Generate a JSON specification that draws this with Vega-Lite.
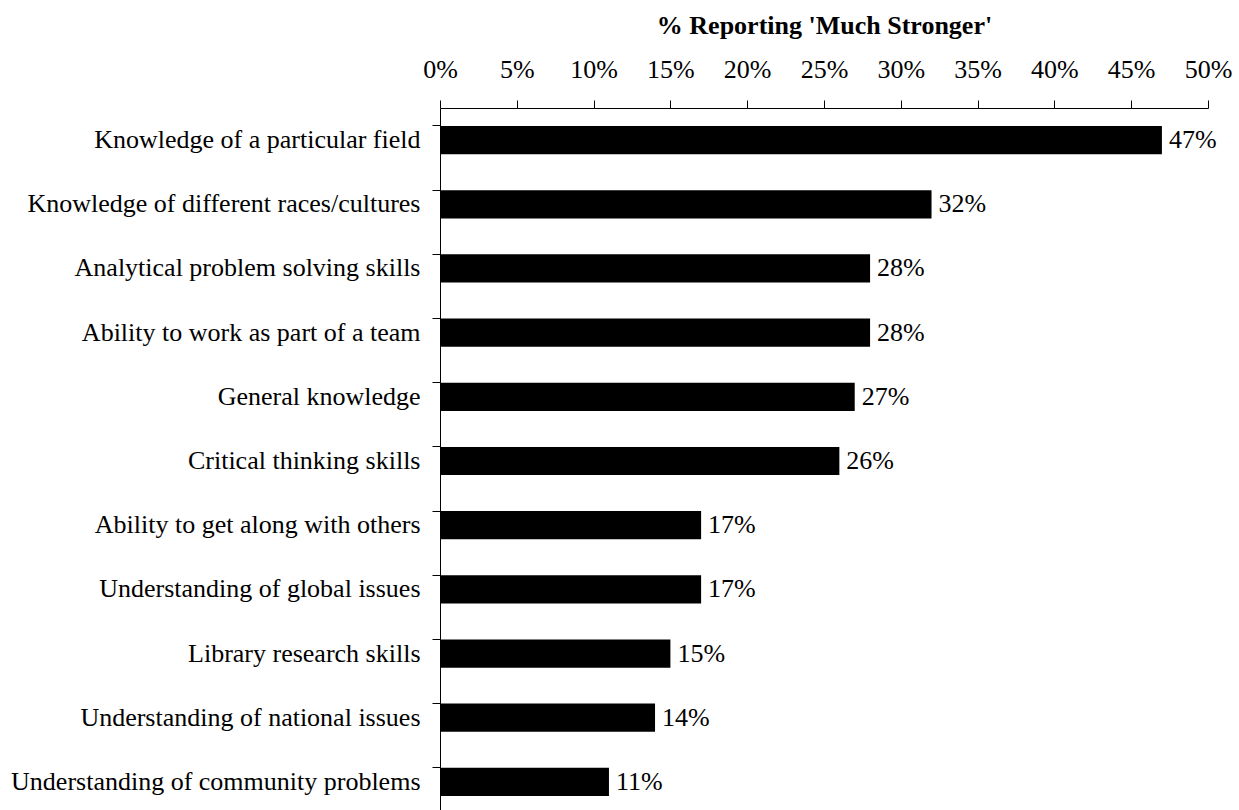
{
  "$schema": "https://vega.github.io/schema/vega-lite/v6.json",
  "autosize": "none",
  "padding": {"left": 440, "top": 108, "right": 31, "bottom": 0},
  "width": 768,
  "height": 706,
  "background": "white",
  "config": {
    "view": {"stroke": null},
    "font": "Liberation Serif",
    "axis": {"labelFont": "Liberation Serif", "titleFont": "Liberation Serif", "labelColor": "black", "titleColor": "black", "domainColor": "black", "tickColor": "black", "grid": false}
  },
  "data": {
    "values": [
      {"skill": "Knowledge of a particular field", "pct": 0.47},
      {"skill": "Knowledge of different races/cultures", "pct": 0.32},
      {"skill": "Analytical problem solving skills", "pct": 0.28},
      {"skill": "Ability to work as part of a team", "pct": 0.28},
      {"skill": "General knowledge", "pct": 0.27},
      {"skill": "Critical thinking skills", "pct": 0.26},
      {"skill": "Ability to get along with others", "pct": 0.17},
      {"skill": "Understanding of global issues", "pct": 0.17},
      {"skill": "Library research skills", "pct": 0.15},
      {"skill": "Understanding of national issues", "pct": 0.14},
      {"skill": "Understanding of community problems", "pct": 0.11}
    ]
  },
  "encoding": {
    "y": {
      "field": "skill", "type": "nominal", "sort": null,
      "scale": {"paddingInner": 0.56, "paddingOuter": 0.28},
      "axis": {"title": null, "bandPosition": 0, "tickSize": 8, "labelPadding": 12, "labelFontSize": 26, "labelLimit": 600, "domainWidth": 1, "tickWidth": 1}
    }
  },
  "layer": [
    {
      "mark": {"type": "bar", "color": "black"},
      "encoding": {
        "x": {
          "field": "pct", "type": "quantitative",
          "scale": {"domain": [0, 0.5], "nice": false},
          "axis": {"orient": "top", "format": ".0%", "values": [0, 0.05, 0.1, 0.15, 0.2, 0.25, 0.3, 0.35, 0.4, 0.45, 0.5], "title": "% Reporting 'Much Stronger'", "titleFontSize": 26, "titleFontWeight": "bold", "titlePadding": 18, "labelFontSize": 26, "labelPadding": 18, "tickSize": 8, "labelFlush": false}
        }
      }
    },
    {
      "mark": {"type": "text", "align": "left", "dx": 7, "fontSize": 26, "color": "black", "font": "Liberation Serif"},
      "encoding": {
        "x": {"field": "pct", "type": "quantitative"},
        "text": {"field": "pct", "type": "quantitative", "format": ".0%"}
      }
    }
  ]
}
